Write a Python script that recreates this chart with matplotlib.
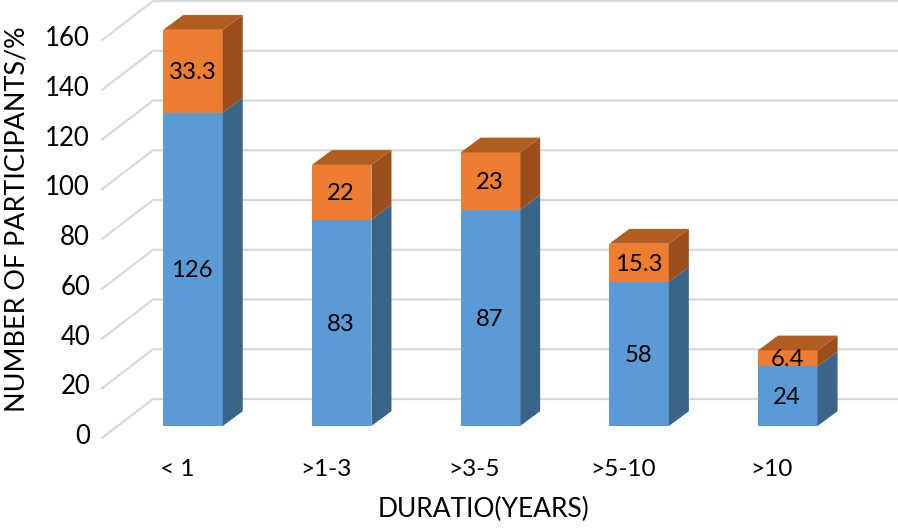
import matplotlib
matplotlib.use("Agg")
import matplotlib.pyplot as plt
from matplotlib.patches import Polygon

categories = ["< 1", ">1-3", ">3-5", ">5-10", ">10"]
blue_values = [126, 83, 87, 58, 24]
orange_values = [33.3, 22, 23, 15.3, 6.4]
orange_labels = ["33.3", "22", "23", "15.3", "6.4"]
y_ticks = [0, 20, 40, 60, 80, 100, 120, 140, 160]

W, H = 898, 528
X0, STEP, Y0, PX = 193.0, 148.7, 426.0, 2.487   # pixel of category 0, px per category, pixel of value 0, px per unit
plt.rcParams["font.family"] = ["Lato", "DejaVu Sans"]

fig = plt.figure(figsize=(W / 100, H / 100), dpi=100)
ax = fig.add_axes([0, 0, 1, 1])
ax.set_xlim(-X0 / STEP, (W - X0) / STEP)
ax.set_ylim((Y0 - H) / PX, Y0 / PX)
ax.axis("off")

hx = 59.5 / STEP           # bar width
dx, dy = 20 / STEP, 14.8 / PX   # bar depth
wall_x0, wall_x1 = (102 - X0) / STEP, (153 - X0) / STEP
wall_front, wall_back = (Y0 - 438) / PX, (Y0 - 399) / PX
TEXT_SHIFT = 1.5 / PX
LABEL_DX = 0.7 / STEP

GRID = "#d9d9d9"
for t in y_ticks:
    ax.plot([wall_x0, wall_x1, ax.get_xlim()[1]],
            [t + wall_front, t + wall_back, t + wall_back],
            color=GRID, lw=1.6, solid_joinstyle="miter", zorder=1)
    ax.text((90 - X0) / STEP, t + (Y0 - 436.5) / PX, str(t), ha="right", va="center",
            fontsize=18.5, color="black")


def block(i, lo, hi, front, side, top=None):
    ax.bar(i, hi - lo, bottom=lo, width=hx, color=front, linewidth=0, zorder=3)
    r = i + hx / 2
    ax.add_patch(Polygon([(r, lo), (r + dx, lo + dy), (r + dx, hi + dy), (r, hi)],
                         facecolor=side, edgecolor="none", zorder=3))
    if top:
        l = i - hx / 2
        ax.add_patch(Polygon([(l, hi), (r, hi), (r + dx, hi + dy), (l + dx, hi + dy)],
                             facecolor=top, edgecolor="none", zorder=3))


for i, (b, o) in enumerate(zip(blue_values, orange_values)):
    block(i, 0, b, "#5b9bd5", "#3a6589")
    block(i, b, b + o, "#ed7d31", "#9b4f1b", "#b35c20")
    ax.text(i - LABEL_DX, b / 2 - TEXT_SHIFT, str(b), ha="center", va="center", fontsize=17.2, zorder=5)
    ax.text(i - LABEL_DX, b + o / 2 - TEXT_SHIFT, orange_labels[i], ha="center", va="center", fontsize=17.2, zorder=5)
    ax.text(i - 16 / STEP, (Y0 - 470) / PX, categories[i], ha="center", va="center",
            fontsize=17.6, color="black")

ax.text((484 - X0) / STEP, (Y0 - 509) / PX, "DURATIO(YEARS)", ha="center", va="center", fontsize=19)
ax.text((17 - X0) / STEP, (Y0 - 219.5) / PX, "NUMBER OF PARTICIPANTS/%", ha="center", va="center",
        rotation=90, fontsize=19.4)

fig.savefig("out.png", dpi=100)
